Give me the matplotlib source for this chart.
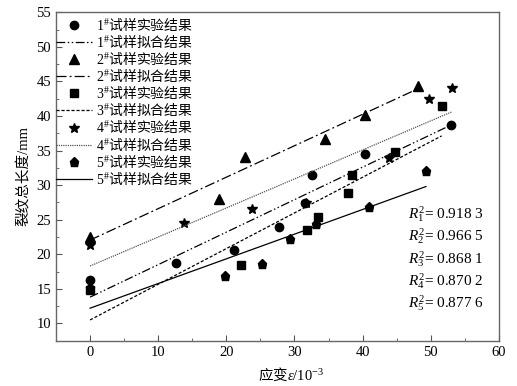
import matplotlib
matplotlib.use("Agg")
import matplotlib.pyplot as plt
from matplotlib.ticker import MultipleLocator
from matplotlib.font_manager import FontProperties
import numpy as np

plt.rcParams['font.family'] = ['Liberation Serif', 'Noto Sans CJK SC', 'DejaVu Sans']
plt.rcParams['mathtext.fontset'] = 'custom'
plt.rcParams['mathtext.rm'] = 'Liberation Serif'
plt.rcParams['mathtext.it'] = 'Liberation Serif:italic'
plt.rcParams['mathtext.bf'] = 'Liberation Serif:bold'

# ---- data ----
x1 = [0, 12.6, 21.1, 27.7, 31.5, 32.5, 40.4, 53.0]
y1 = [16.3, 18.7, 20.6, 23.9, 27.4, 31.5, 34.5, 38.7]
x2 = [0, 18.9, 22.8, 34.5, 40.3, 48.2]
y2 = [22.5, 28.0, 34.0, 36.7, 40.1, 44.4]
x3 = [0, 22.2, 31.9, 33.4, 37.8, 38.5, 44.8, 51.6]
y3 = [14.8, 18.4, 23.5, 25.4, 28.9, 31.4, 34.8, 41.5]
x4 = [0, 13.8, 23.8, 31.7, 43.8, 49.7, 53.1]
y4 = [21.3, 24.5, 26.6, 27.4, 33.9, 42.4, 44.0]
x5 = [0, 19.8, 25.2, 29.3, 33.2, 40.9, 49.3]
y5 = [15.1, 16.8, 18.6, 22.2, 24.4, 26.8, 32.1]

fit_intercepts = [13.8, 22.05, 10.5, 18.3, 12.2]
fit_slopes = [0.470, 0.455, 0.516, 0.420, 0.357]
r2_values = ["0.918 3", "0.966 5", "0.868 1", "0.870 2", "0.877 6"]

series_x = [x1, x2, x3, x4, x5]
series_y = [y1, y2, y3, y4, y5]
markers = ['o', '^', 's', '*', 'p']
msizes = [6, 6.5, 5.5, 7.5, 6.5]
linestyles = [(0, (7, 2, 1.2, 2, 1.2, 2)), (0, (8, 2.5, 1.5, 2.5)), (0, (2.5, 1.5)),
              (0, (1, 0.8)), '-']
line_colors = ['black', 'black', 'black', '#555555', 'black']

fig = plt.figure(figsize=(5.17, 3.86), dpi=100)
ax = fig.add_axes([0.1083, 0.1174, 0.8567, 0.8507])

for i in range(5):
    n = i + 1
    ax.plot(series_x[i], series_y[i], linestyle='none', marker=markers[i],
            color='black', markersize=msizes[i],
            label=f"${n}^{{\\#}}$试样实验结果")
    xs = np.array([0, max(series_x[i])])
    ys = fit_intercepts[i] + fit_slopes[i] * xs
    ax.plot(xs, ys, linestyle=linestyles[i], color=line_colors[i], linewidth=0.9,
            label=f"${n}^{{\\#}}$试样拟合结果")

ax.set_xlim(-5, 60)
ax.set_ylim(7.5, 55)
ax.xaxis.set_major_locator(MultipleLocator(10))
ax.xaxis.set_minor_locator(MultipleLocator(5))
ax.yaxis.set_major_locator(MultipleLocator(5))
ax.yaxis.set_minor_locator(MultipleLocator(2.5))
ax.tick_params(which='both', direction='in', top=False, right=False, labelsize=10.5,
               color='#555555')
ax.tick_params(which='major', length=4)
ax.tick_params(which='minor', length=2.5)
for sp in ax.spines.values():
    sp.set_color('#666666')
    sp.set_linewidth(1.0)

cjk = FontProperties(family='Noto Sans CJK SC', size=10.5)
ax.set_xlabel(r"应变$\mathit{\varepsilon}/10^{-3}$", fontproperties=cjk)
ax.xaxis.set_label_coords(0.53, -0.075)
ax.set_ylabel("裂纹总长度/mm", fontsize=10.5, labelpad=4)

leg = ax.legend(loc='upper left', frameon=False,
                prop=FontProperties(family='Noto Sans CJK SC', size=10),
                handlelength=2.6, handletextpad=0.3, labelspacing=0.08,
                borderaxespad=0.2, borderpad=0.1, bbox_to_anchor=(-0.01, 1.0))

for i, v in enumerate(r2_values):
    ax.text(0.795, 0.385 - i * 0.0675, f"$R_{{{i+1}}}^{{2}}$= {v}",
            transform=ax.transAxes, fontsize=11, va='center', ha='left',
            family='Liberation Serif')

fig.savefig("out.png", dpi=100)
